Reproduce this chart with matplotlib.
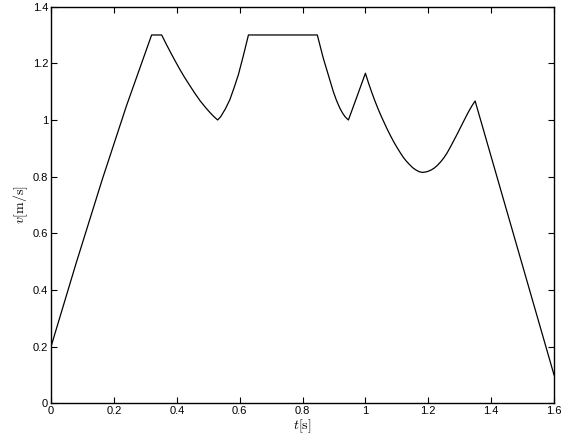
import matplotlib
matplotlib.use('Agg')
import matplotlib.pyplot as plt

# velocity profile (t in s, v in m/s)
t = [0.000, 0.080, 0.163, 0.240, 0.320,
     0.352, 0.365, 0.380, 0.395, 0.410, 0.425, 0.440, 0.457, 0.474,
     0.490, 0.505, 0.518, 0.530,
     0.540, 0.555, 0.569, 0.583, 0.596, 0.612, 0.628,
     0.847, 0.866, 0.882, 0.898, 0.908, 0.919, 0.927, 0.935, 0.941, 0.946,
     0.973, 1.000,
     1.010, 1.020, 1.030, 1.040, 1.050, 1.060, 1.070, 1.080, 1.090,
     1.100, 1.110, 1.120, 1.130, 1.140, 1.150, 1.160, 1.170, 1.180,
     1.190, 1.200, 1.210, 1.220, 1.230, 1.240, 1.250, 1.260, 1.270,
     1.280, 1.290, 1.300, 1.310, 1.320, 1.330, 1.340, 1.349,
     1.600]
v = [0.200, 0.495, 0.790, 1.050, 1.300,
     1.300, 1.271, 1.239, 1.208, 1.178, 1.150, 1.124, 1.095, 1.068,
     1.046, 1.027, 1.012, 1.000,
     1.012, 1.040, 1.072, 1.116, 1.160, 1.228, 1.300,
     1.300, 1.218, 1.159, 1.100, 1.069, 1.041, 1.025, 1.012, 1.005, 1.000,
     1.082, 1.165,
     1.130, 1.098, 1.068, 1.040, 1.014, 0.990, 0.966, 0.944, 0.923,
     0.904, 0.886, 0.869, 0.855, 0.843, 0.832, 0.824, 0.818, 0.815,
     0.816, 0.819, 0.824, 0.831, 0.841, 0.853, 0.867, 0.884, 0.904,
     0.925, 0.946, 0.968, 0.990, 1.012, 1.033, 1.052, 1.067,
     0.100]

x_ticks = [0, 0.2, 0.4, 0.6, 0.8, 1, 1.2, 1.4, 1.6]
y_ticks = [0, 0.2, 0.4, 0.6, 0.8, 1, 1.2, 1.4]
x_labels = ['0', '0.2', '0.4', '0.6', '0.8', '1', '1.2', '1.4', '1.6']
y_labels = ['0', '0.2', '0.4', '0.6', '0.8', '1', '1.2', '1.4']

plt.rcParams['font.family'] = ['Liberation Sans', 'DejaVu Sans']
plt.rcParams['mathtext.fontset'] = 'cm'

fig = plt.figure(figsize=(5.7, 4.43), dpi=100)
ax = fig.add_axes([0.0895, 0.0896, 0.8825, 0.8954])
ax.plot(t, v, color='black', linewidth=0.9)

ax.set_xlim(0, 1.6)
ax.set_ylim(0, 1.4)
ax.set_xticks(x_ticks)
ax.set_yticks(y_ticks)
ax.set_xticklabels(x_labels)
ax.set_yticklabels(y_labels)
ax.tick_params(direction='in', top=True, right=True, length=4, width=0.8,
               labelsize=8, pad=2)
for s in ax.spines.values():
    s.set_linewidth(1.0)

ax.set_xlabel(r'$t[\mathrm{s}]$', fontsize=10, labelpad=1)
ax.set_ylabel(r'$v[\mathrm{m/s}]$', fontsize=10, labelpad=2)

fig.savefig('out.png', dpi=100)
